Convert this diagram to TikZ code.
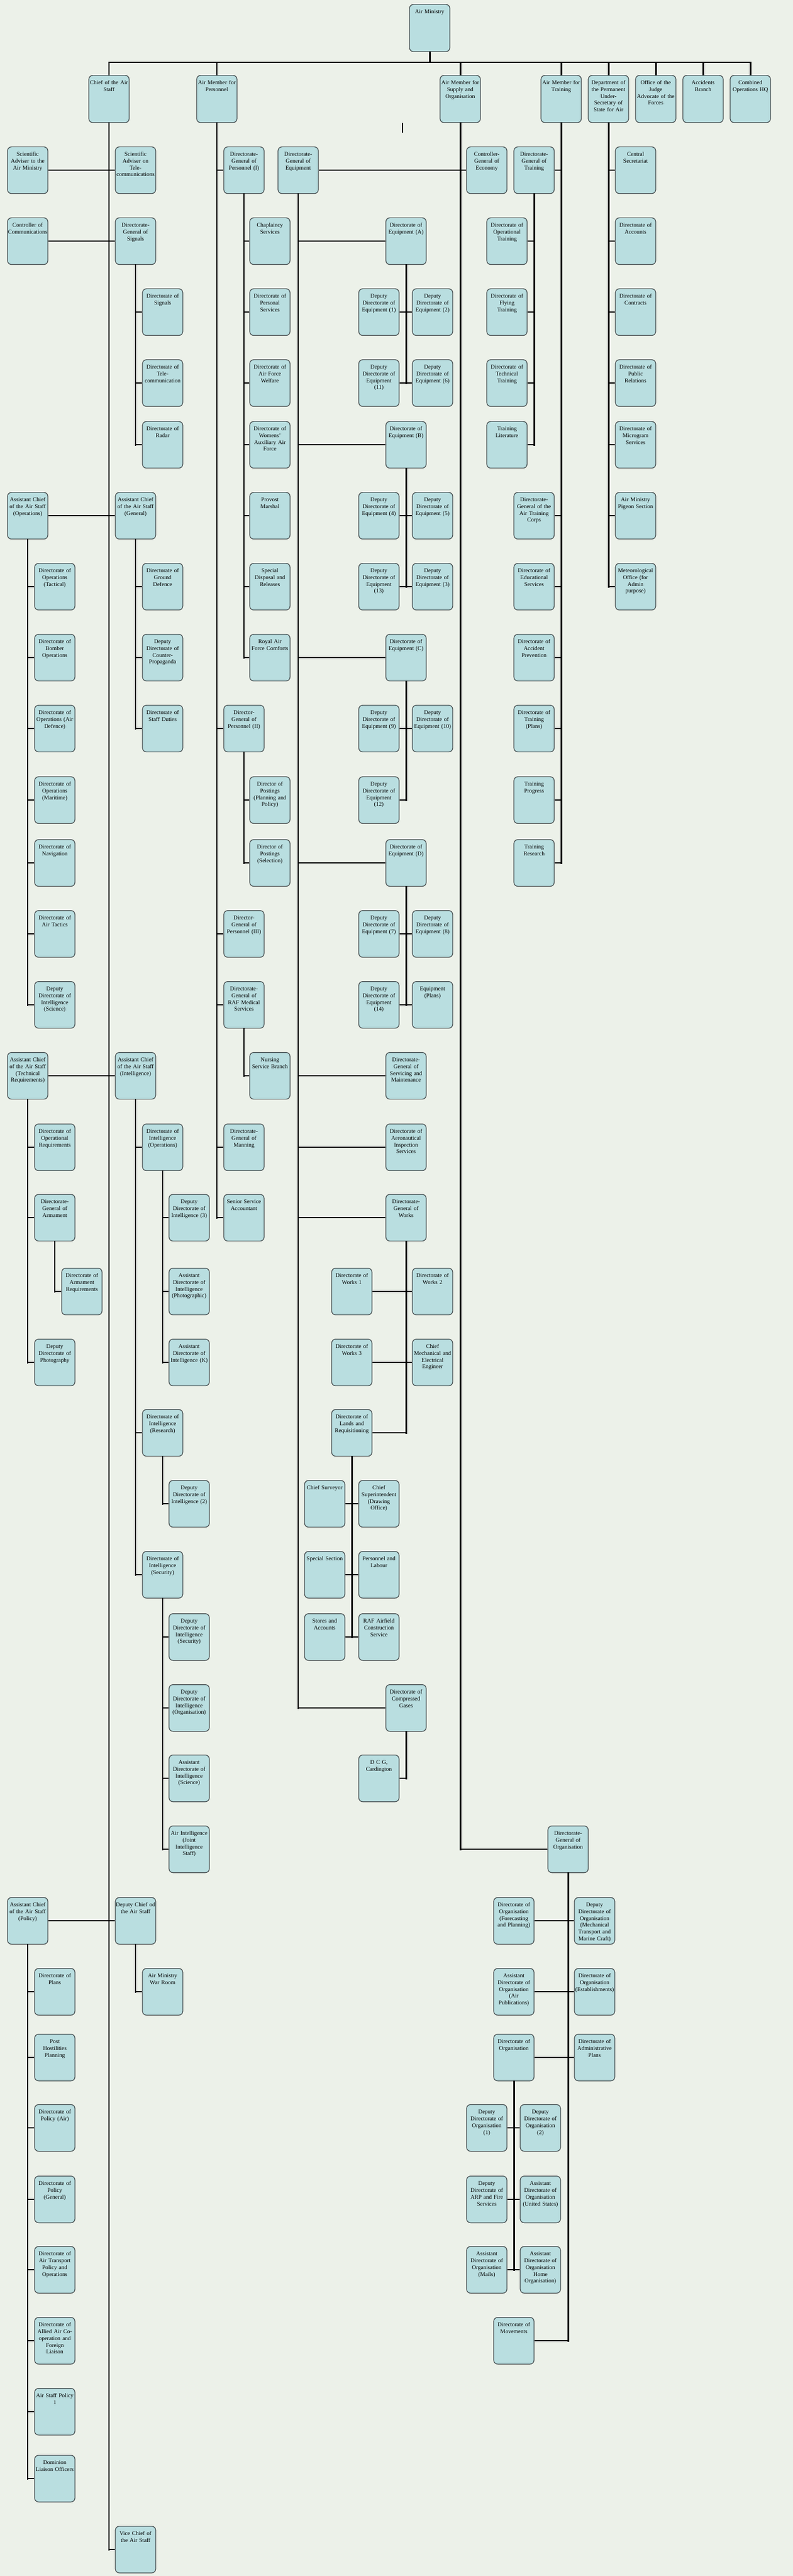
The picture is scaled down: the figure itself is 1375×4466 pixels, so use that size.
\documentclass[tikz,border=0pt]{standalone}
\usepackage{fontspec}
\setmainfont{Liberation Serif}
\definecolor{paper}{RGB}{236, 241, 233}
\definecolor{unitblue}{RGB}{185, 222, 224}
\definecolor{unitedge}{RGB}{68, 76, 78}

\begin{document}
\begin{tikzpicture}[
  x=0.02cm, y=-0.02cm,
  unit/.style={draw=unitedge, line width=0.7pt, fill=unitblue, rounded corners=0.14cm, anchor=north, text width=1.37cm, align=center, inner xsep=0.015cm, inner ysep=0.04cm, text height=0.27cm, text depth=1.27cm, font=\fontsize{5.67pt}{6.8pt}\selectfont},
  member/.style={unit, text depth=1.29cm},
  trunk/.style={line width=1.7pt, line cap=rect},
  branch/.style={line width=1.4pt}
]
  % Page
  \fill[paper] (0,0) rectangle (1375,4466);
  \useasboundingbox (0,0) rectangle (1375,4466);

  % Air Ministry and its members
  \node[member] (ministry) at (745,7) {Air Ministry};
  \node[member] (cas) at (189,130) {Chief of the Air\\Staff};
  \node[member] (amp) at (376,130) {Air Member for\\Personnel};
  \node[member] (amso) at (798,130) {Air Member for\\Supply and\\Organisation};
  \node[member] (amt) at (973,130) {Air Member for\\Training};
  \node[member] (pus) at (1055,130) {Department of\\the Permanent\\Under-\\Secretary of\\State for Air};
  \node[member] (jag) at (1137,130) {Office of the\\Judge\\Advocate of the\\Forces};
  \node[member] (accid) at (1219,130) {Accidents\\Branch};
  \node[member] (cohq) at (1301,130) {Combined\\Operations HQ};
  \coordinate (bus) at (745,108);

  % Chief of the Air Staff
  \node[unit] (sciam) at (48,254) {Scientific\\Adviser to the\\Air Ministry};
  \node[unit] (scitele) at (235,254) {Scientific\\Adviser on\\Tele-\\communications};
  \node[unit] (ctrlcomm) at (48,377) {Controller of\\Communications};
  \node[unit] (dgsig) at (235,377) {Directorate-\\General of\\Signals};
  \node[unit] (dsig) at (282,500) {Directorate of\\Signals};
  \node[unit] (dtele) at (282,623) {Directorate of\\Tele-\\communication};
  \node[unit] (dradar) at (282,730) {Directorate of\\Radar};
  \node[unit] (acasops) at (48,853) {Assistant Chief\\of the Air Staff\\(Operations)};
  \node[unit] (acasgen) at (235,853) {Assistant Chief\\of the Air Staff\\(General)};
  \node[unit] (optac) at (95,976) {Directorate of\\Operations\\(Tactical)};
  \node[unit] (bomber) at (95,1099) {Directorate of\\Bomber\\Operations};
  \node[unit] (airdef) at (95,1222) {Directorate of\\Operations (Air\\Defence)};
  \node[unit] (maritime) at (95,1346) {Directorate of\\Operations\\(Maritime)};
  \node[unit] (navig) at (95,1455) {Directorate of\\Navigation};
  \node[unit] (tactics) at (95,1578) {Directorate of\\Air Tactics};
  \node[unit] (ddisci) at (95,1701) {Deputy\\Directorate of\\Intelligence\\(Science)};
  \node[unit] (grounddef) at (282,976) {Directorate of\\Ground\\Defence};
  \node[unit] (counterprop) at (282,1099) {Deputy\\Directorate of\\Counter-\\Propaganda};
  \node[unit] (staffduties) at (282,1222) {Directorate of\\Staff Duties};
  \node[unit] (acastr) at (48,1824) {Assistant Chief\\of the Air Staff\\(Technical\\Requirements)};
  \node[unit] (acasint) at (235,1824) {Assistant Chief\\of the Air Staff\\(Intelligence)};
  \node[unit] (opreq) at (95,1948) {Directorate of\\Operational\\Requirements};
  \node[unit] (dgarm) at (95,2070) {Directorate-\\General of\\Armament};
  \node[unit] (armreq) at (142,2198) {Directorate of\\Armament\\Requirements};
  \node[unit] (photo) at (95,2321) {Deputy\\Directorate of\\Photography};
  \node[unit] (diops) at (282,1948) {Directorate of\\Intelligence\\(Operations)};
  \node[unit] (ddi3) at (328,2070) {Deputy\\Directorate of\\Intelligence (3)};
  \node[unit] (adiphoto) at (328,2198) {Assistant\\Directorate of\\Intelligence\\(Photographic)};
  \node[unit] (adik) at (328,2321) {Assistant\\Directorate of\\Intelligence (K)};
  \node[unit] (diresearch) at (282,2443) {Directorate of\\Intelligence\\(Research)};
  \node[unit] (ddi2) at (328,2566) {Deputy\\Directorate of\\Intelligence (2)};
  \node[unit] (disec) at (282,2689) {Directorate of\\Intelligence\\(Security)};
  \node[unit] (ddisec) at (328,2797) {Deputy\\Directorate of\\Intelligence\\(Security)};
  \node[unit] (ddiorg) at (328,2920) {Deputy\\Directorate of\\Intelligence\\(Organisation)};
  \node[unit] (adisci) at (328,3042) {Assistant\\Directorate of\\Intelligence\\(Science)};
  \node[unit] (aijis) at (328,3165) {Air Intelligence\\(Joint\\Intelligence\\Staff)};
  \node[unit] (acaspol) at (48,3289) {Assistant Chief\\of the Air Staff\\(Policy)};
  \node[unit] (dcas) at (235,3289) {Deputy Chief od\\the Air Staff};
  \node[unit] (warroom) at (282,3412) {Air Ministry\\War Room};
  \node[unit] (plans) at (95,3412) {Directorate of\\Plans};
  \node[unit] (posthost) at (95,3526) {Post\\Hostilities\\Planning};
  \node[unit] (polair) at (95,3648) {Directorate of\\Policy (Air)};
  \node[unit] (polgen) at (95,3772) {Directorate of\\Policy\\(General)};
  \node[unit] (airtrans) at (95,3894) {Directorate of\\Air Transport\\Policy and\\Operations};
  \node[unit] (allied) at (95,4017) {Directorate of\\Allied Air Co-\\operation and\\Foreign\\Liaison};
  \node[unit] (asp) at (95,4140) {Air Staff Policy\\1};
  \node[unit] (dominion) at (95,4256) {Dominion\\Liaison Officers};
  \node[unit] (vcas) at (235,4379) {Vice Chief of\\the Air Staff};

  % Air Member for Personnel
  \node[unit] (dgp1) at (423,254) {Directorate-\\General of\\Personnel (I)};
  \node[unit] (chaplain) at (468,377) {Chaplaincy\\Services};
  \node[unit] (persserv) at (468,500) {Directorate of\\Personal\\Services};
  \node[unit] (welfare) at (468,623) {Directorate of\\Air Force\\Welfare};
  \node[unit] (waaf) at (468,730) {Directorate of\\Womens'\\Auxiliary Air\\Force};
  \node[unit] (provost) at (468,853) {Provost\\Marshal};
  \node[unit] (disposal) at (468,976) {Special\\Disposal and\\Releases};
  \node[unit] (comforts) at (468,1099) {Royal Air\\Force Comforts};
  \node[unit] (dgp2) at (423,1222) {Director-\\General of\\Personnel (II)};
  \node[unit] (postplan) at (468,1346) {Director of\\Postings\\(Planning and\\Policy)};
  \node[unit] (postsel) at (468,1455) {Director of\\Postings\\(Selection)};
  \node[unit] (dgp3) at (423,1578) {Director-\\General of\\Personnel (III)};
  \node[unit] (dgmed) at (423,1701) {Directorate-\\General of\\RAF Medical\\Services};
  \node[unit] (nursing) at (468,1824) {Nursing\\Service Branch};
  \node[unit] (dgman) at (423,1948) {Directorate-\\General of\\Manning};
  \node[unit] (ssa) at (423,2070) {Senior Service\\Accountant};

  % Air Member for Supply and Organisation
  \node[unit] (dgequip) at (517,254) {Directorate-\\General of\\Equipment};
  \node[unit] (cgecon) at (844,254) {Controller-\\General of\\Economy};
  \node[unit] (eqa) at (704,377) {Directorate of\\Equipment (A)};
  \node[unit] (dde1) at (657,500) {Deputy\\Directorate of\\Equipment (1)};
  \node[unit] (dde2) at (750,500) {Deputy\\Directorate of\\Equipment (2)};
  \node[unit] (dde11) at (657,623) {Deputy\\Directorate of\\Equipment\\(11)};
  \node[unit] (dde6) at (750,623) {Deputy\\Directorate of\\Equipment (6)};
  \node[unit] (eqb) at (704,730) {Directorate of\\Equipment (B)};
  \node[unit] (dde4) at (657,853) {Deputy\\Directorate of\\Equipment (4)};
  \node[unit] (dde5) at (750,853) {Deputy\\Directorate of\\Equipment (5)};
  \node[unit] (dde13) at (657,976) {Deputy\\Directorate of\\Equipment\\(13)};
  \node[unit] (dde3) at (750,976) {Deputy\\Directorate of\\Equipment (3)};
  \node[unit] (eqc) at (704,1099) {Directorate of\\Equipment (C)};
  \node[unit] (dde9) at (657,1222) {Deputy\\Directorate of\\Equipment (9)};
  \node[unit] (dde10) at (750,1222) {Deputy\\Directorate of\\Equipment (10)};
  \node[unit] (dde12) at (657,1346) {Deputy\\Directorate of\\Equipment\\(12)};
  \node[unit] (eqd) at (704,1455) {Directorate of\\Equipment (D)};
  \node[unit] (dde7) at (657,1578) {Deputy\\Directorate of\\Equipment (7)};
  \node[unit] (dde8) at (750,1578) {Deputy\\Directorate of\\Equipment (8)};
  \node[unit] (dde14) at (657,1701) {Deputy\\Directorate of\\Equipment\\(14)};
  \node[unit] (eqplans) at (750,1701) {Equipment\\(Plans)};
  \node[unit] (dgsm) at (704,1824) {Directorate-\\General of\\Servicing and\\Maintenance};
  \node[unit] (dais) at (704,1948) {Directorate of\\Aeronautical\\Inspection\\Services};
  \node[unit] (dgworks) at (704,2070) {Directorate-\\General of\\Works};
  \node[unit] (works1) at (610,2198) {Directorate of\\Works 1};
  \node[unit] (works2) at (750,2198) {Directorate of\\Works 2};
  \node[unit] (works3) at (610,2321) {Directorate of\\Works 3};
  \node[unit] (cmee) at (750,2321) {Chief\\Mechanical and\\Electrical\\Engineer};
  \node[unit] (lands) at (610,2443) {Directorate of\\Lands and\\Requisitioning};
  \node[unit] (surveyor) at (563,2566) {Chief Surveyor};
  \node[unit] (drawing) at (657,2566) {Chief\\Superintendent\\(Drawing\\Office)};
  \node[unit] (special) at (563,2689) {Special Section};
  \node[unit] (labour) at (657,2689) {Personnel and\\Labour};
  \node[unit] (stores) at (563,2797) {Stores and\\Accounts};
  \node[unit] (airfield) at (657,2797) {RAF Airfield\\Construction\\Service};
  \node[unit] (gases) at (704,2920) {Directorate of\\Compressed\\Gases};
  \node[unit] (cardington) at (657,3042) {D C G,\\Cardington};
  \node[unit] (dgorg) at (985,3165) {Directorate-\\General of\\Organisation};
  \node[unit] (forecast) at (891,3289) {Directorate of\\Organisation\\(Forecasting\\and Planning)};
  \node[unit] (mtcraft) at (1031,3289) {Deputy\\Directorate of\\Organisation\\(Mechanical\\Transport and\\Marine Craft)};
  \node[unit] (airpub) at (891,3412) {Assistant\\Directorate of\\Organisation\\(Air\\Publications)};
  \node[unit] (estab) at (1031,3412) {Directorate of\\Organisation\\(Establishments)};
  \node[unit] (dirorg) at (891,3526) {Directorate of\\Organisation};
  \node[unit] (adminplans) at (1031,3526) {Directorate of\\Administrative\\Plans};
  \node[unit] (ddo1) at (844,3648) {Deputy\\Directorate of\\Organisation\\(1)};
  \node[unit] (ddo2) at (937,3648) {Deputy\\Directorate of\\Organisation\\(2)};
  \node[unit] (arp) at (844,3772) {Deputy\\Directorate of\\ARP and Fire\\Services};
  \node[unit] (usa) at (937,3772) {Assistant\\Directorate of\\Organisation\\(United States)};
  \node[unit] (mails) at (844,3894) {Assistant\\Directorate of\\Organisation\\(Mails)};
  \node[unit] (homeorg) at (937,3894) {Assistant\\Directorate of\\Organisation\\Home\\Organisation)};
  \node[unit] (movements) at (891,4017) {Directorate of\\Movements};

  % Air Member for Training
  \node[unit] (dgtrain) at (926,254) {Directorate-\\General of\\Training};
  \node[unit] (optrain) at (879,377) {Directorate of\\Operational\\Training};
  \node[unit] (flytrain) at (879,500) {Directorate of\\Flying\\Training};
  \node[unit] (techtrain) at (879,623) {Directorate of\\Technical\\Training};
  \node[unit] (trainlit) at (879,730) {Training\\Literature};
  \node[unit] (atc) at (926,853) {Directorate-\\General of the\\Air Training\\Corps};
  \node[unit] (educ) at (926,976) {Directorate of\\Educational\\Services};
  \node[unit] (accprev) at (926,1099) {Directorate of\\Accident\\Prevention};
  \node[unit] (trplans) at (926,1222) {Directorate of\\Training\\(Plans)};
  \node[unit] (trprog) at (926,1346) {Training\\Progress};
  \node[unit] (trres) at (926,1455) {Training\\Research};

  % Permanent Under-Secretary
  \node[unit] (centsec) at (1102,254) {Central\\Secretariat};
  \node[unit] (accounts) at (1102,377) {Directorate of\\Accounts};
  \node[unit] (contracts) at (1102,500) {Directorate of\\Contracts};
  \node[unit] (pubrel) at (1102,623) {Directorate of\\Public\\Relations};
  \node[unit] (microgram) at (1102,730) {Directorate of\\Microgram\\Services};
  \node[unit] (pigeon) at (1102,853) {Air Ministry\\Pigeon Section};
  \node[unit] (meteo) at (1102,976) {Meteorological\\Office (for\\Admin\\purpose)};

  % Top bus
  \draw[trunk] (ministry.south) -- (bus);
  \draw[trunk] (cas.north) |- (bus) -| (cohq.north);
  \draw[trunk] (amp.north) -- (amp.north |- bus) (amso.north) -- (amso.north |- bus)
    (amt.north) -- (amt.north |- bus) (pus.north) -- (pus.north |- bus)
    (jag.north) -- (jag.north |- bus) (accid.north) -- (accid.north |- bus);
  \draw[line width=0.6pt] (698,213) -- (698,230);

  % CAS links
  \draw[trunk] (cas.south) -- (cas.south |- vcas.west);
  \draw[branch] (sciam.east) -- (scitele.west) (ctrlcomm.east) -- (dgsig.west)
    (acasops.east) -- (acasgen.west) (acastr.east) -- (acasint.west)
    (acaspol.east) -- (dcas.west) (vcas.west) -- (vcas.west -| cas.south);
  \draw[trunk] (dgsig.south) -- (dgsig.south |- dradar.west);
  \draw[branch] (dsig.west) -- (dsig.west -| dgsig.south) (dtele.west) -- (dtele.west -| dgsig.south)
    (dradar.west) -- (dradar.west -| dgsig.south);
  \draw[trunk] (acasops.south) -- (acasops.south |- ddisci.west);
  \draw[branch] (optac.west) -- (optac.west -| acasops.south) (bomber.west) -- (bomber.west -| acasops.south)
    (airdef.west) -- (airdef.west -| acasops.south) (maritime.west) -- (maritime.west -| acasops.south)
    (navig.west) -- (navig.west -| acasops.south) (tactics.west) -- (tactics.west -| acasops.south)
    (ddisci.west) -- (ddisci.west -| acasops.south);
  \draw[trunk] (acasgen.south) -- (acasgen.south |- staffduties.west);
  \draw[branch] (grounddef.west) -- (grounddef.west -| acasgen.south)
    (counterprop.west) -- (counterprop.west -| acasgen.south)
    (staffduties.west) -- (staffduties.west -| acasgen.south);
  \draw[trunk] (acastr.south) -- (acastr.south |- photo.west);
  \draw[branch] (opreq.west) -- (opreq.west -| acastr.south) (dgarm.west) -- (dgarm.west -| acastr.south)
    (photo.west) -- (photo.west -| acastr.south);
  \draw[trunk] (dgarm.south) -- (dgarm.south |- armreq.west);
  \draw[branch] (armreq.west) -- (armreq.west -| dgarm.south);
  \draw[trunk] (acasint.south) -- (acasint.south |- disec.west);
  \draw[branch] (diops.west) -- (diops.west -| acasint.south)
    (diresearch.west) -- (diresearch.west -| acasint.south) (disec.west) -- (disec.west -| acasint.south);
  \draw[trunk] (diops.south) -- (diops.south |- adik.west);
  \draw[branch] (ddi3.west) -- (ddi3.west -| diops.south) (adiphoto.west) -- (adiphoto.west -| diops.south)
    (adik.west) -- (adik.west -| diops.south);
  \draw[trunk] (diresearch.south) -- (diresearch.south |- ddi2.west);
  \draw[branch] (ddi2.west) -- (ddi2.west -| diresearch.south);
  \draw[trunk] (disec.south) -- (disec.south |- aijis.west);
  \draw[branch] (ddisec.west) -- (ddisec.west -| disec.south) (ddiorg.west) -- (ddiorg.west -| disec.south)
    (adisci.west) -- (adisci.west -| disec.south) (aijis.west) -- (aijis.west -| disec.south);
  \draw[trunk] (acaspol.south) -- (acaspol.south |- dominion.west);
  \draw[branch] (plans.west) -- (plans.west -| acaspol.south) (posthost.west) -- (posthost.west -| acaspol.south)
    (polair.west) -- (polair.west -| acaspol.south) (polgen.west) -- (polgen.west -| acaspol.south)
    (airtrans.west) -- (airtrans.west -| acaspol.south) (allied.west) -- (allied.west -| acaspol.south)
    (asp.west) -- (asp.west -| acaspol.south) (dominion.west) -- (dominion.west -| acaspol.south);
  \draw[trunk] (dcas.south) -- (dcas.south |- warroom.west);
  \draw[branch] (warroom.west) -- (warroom.west -| dcas.south);

  % AMP links
  \draw[trunk] (amp.south) -- (amp.south |- ssa.west);
  \draw[branch] (dgp1.west) -- (dgp1.west -| amp.south) (dgp2.west) -- (dgp2.west -| amp.south)
    (dgp3.west) -- (dgp3.west -| amp.south) (dgmed.west) -- (dgmed.west -| amp.south)
    (dgman.west) -- (dgman.west -| amp.south) (ssa.west) -- (ssa.west -| amp.south);
  \draw[trunk] (dgp1.south) -- (dgp1.south |- comforts.west);
  \draw[branch] (chaplain.west) -- (chaplain.west -| dgp1.south) (persserv.west) -- (persserv.west -| dgp1.south)
    (welfare.west) -- (welfare.west -| dgp1.south) (waaf.west) -- (waaf.west -| dgp1.south)
    (provost.west) -- (provost.west -| dgp1.south) (disposal.west) -- (disposal.west -| dgp1.south)
    (comforts.west) -- (comforts.west -| dgp1.south);
  \draw[trunk] (dgp2.south) -- (dgp2.south |- postsel.west);
  \draw[branch] (postplan.west) -- (postplan.west -| dgp2.south) (postsel.west) -- (postsel.west -| dgp2.south);
  \draw[trunk] (dgmed.south) -- (dgmed.south |- nursing.west);
  \draw[branch] (nursing.west) -- (nursing.west -| dgmed.south);

  % AMSO links
  \draw[trunk] (amso.south) -- (amso.south |- dgorg.west);
  \draw[branch] (dgequip.east) -- (dgequip.east -| amso.south) (cgecon.west) -- (cgecon.west -| amso.south)
    (dgorg.west) -- (dgorg.west -| amso.south);
  \draw[trunk] (dgequip.south) -- (dgequip.south |- gases.west);
  \draw[branch] (eqa.west) -- (eqa.west -| dgequip.south) (eqb.west) -- (eqb.west -| dgequip.south)
    (eqc.west) -- (eqc.west -| dgequip.south) (eqd.west) -- (eqd.west -| dgequip.south)
    (dgsm.west) -- (dgsm.west -| dgequip.south) (dais.west) -- (dais.west -| dgequip.south)
    (dgworks.west) -- (dgworks.west -| dgequip.south) (gases.west) -- (gases.west -| dgequip.south);
  \draw[trunk] (eqa.south) -- (eqa.south |- dde11.east);
  \draw[branch] (dde1.east) -- (dde2.west) (dde11.east) -- (dde6.west);
  \draw[trunk] (eqb.south) -- (eqb.south |- dde13.east);
  \draw[branch] (dde4.east) -- (dde5.west) (dde13.east) -- (dde3.west);
  \draw[trunk] (eqc.south) -- (eqc.south |- dde12.east);
  \draw[branch] (dde9.east) -- (dde10.west) (dde12.east) -- (dde12.east -| eqc.south);
  \draw[trunk] (eqd.south) -- (eqd.south |- dde14.east);
  \draw[branch] (dde7.east) -- (dde8.west) (dde14.east) -- (eqplans.west);
  \draw[trunk] (dgworks.south) -- (dgworks.south |- lands.east);
  \draw[branch] (works1.east) -- (works2.west) (works3.east) -- (cmee.west)
    (lands.east) -- (lands.east -| dgworks.south);
  \draw[trunk] (lands.south) -- (lands.south |- stores.east);
  \draw[branch] (surveyor.east) -- (drawing.west) (special.east) -- (labour.west) (stores.east) -- (airfield.west);
  \draw[trunk] (gases.south) -- (gases.south |- cardington.east);
  \draw[branch] (cardington.east) -- (cardington.east -| gases.south);
  \draw[trunk] (dgorg.south) -- (dgorg.south |- movements.east);
  \draw[branch] (forecast.east) -- (mtcraft.west) (airpub.east) -- (estab.west)
    (dirorg.east) -- (adminplans.west) (movements.east) -- (movements.east -| dgorg.south);
  \draw[trunk] (dirorg.south) -- (dirorg.south |- mails.east);
  \draw[branch] (ddo1.east) -- (ddo2.west) (arp.east) -- (usa.west) (mails.east) -- (homeorg.west);

  % AMT links
  \draw[trunk] (amt.south) -- (amt.south |- trres.east);
  \draw[branch] (dgtrain.east) -- (dgtrain.east -| amt.south) (atc.east) -- (atc.east -| amt.south)
    (educ.east) -- (educ.east -| amt.south) (accprev.east) -- (accprev.east -| amt.south)
    (trplans.east) -- (trplans.east -| amt.south) (trprog.east) -- (trprog.east -| amt.south)
    (trres.east) -- (trres.east -| amt.south);
  \draw[trunk] (dgtrain.south) -- (dgtrain.south |- trainlit.east);
  \draw[branch] (optrain.east) -- (optrain.east -| dgtrain.south) (flytrain.east) -- (flytrain.east -| dgtrain.south)
    (techtrain.east) -- (techtrain.east -| dgtrain.south) (trainlit.east) -- (trainlit.east -| dgtrain.south);

  % PUS links
  \draw[trunk] (pus.south) -- (pus.south |- meteo.west);
  \draw[branch] (centsec.west) -- (centsec.west -| pus.south) (accounts.west) -- (accounts.west -| pus.south)
    (contracts.west) -- (contracts.west -| pus.south) (pubrel.west) -- (pubrel.west -| pus.south)
    (microgram.west) -- (microgram.west -| pus.south) (pigeon.west) -- (pigeon.west -| pus.south)
    (meteo.west) -- (meteo.west -| pus.south);
\end{tikzpicture}
\end{document}
